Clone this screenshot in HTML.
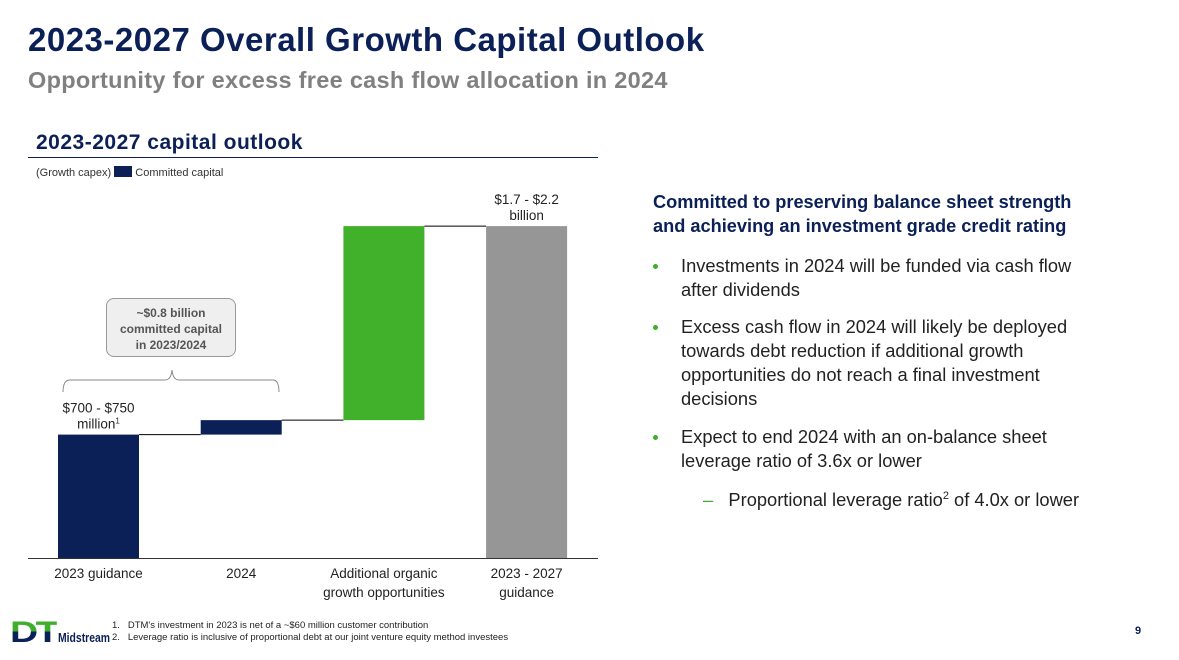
<!DOCTYPE html>
<html><head><meta charset="utf-8"><style>
body{margin:0;width:1179px;height:660px;background:#fff;position:relative;overflow:hidden;font-family:"Liberation Sans",sans-serif}
.a{position:absolute;white-space:nowrap}
.navy{color:#0b2057}
.rt{font-size:18.3px;color:#222;line-height:24px}
.dot{position:absolute;left:653px;width:5px;height:5px;border-radius:50%;background:#3fae2a}
</style></head><body>
<div class="a navy" style="left:28px;top:21px;font-size:33px;font-weight:bold;letter-spacing:0.5px">2023-2027 Overall Growth Capital Outlook</div>
<div class="a" style="left:28px;top:67px;font-size:23.5px;font-weight:bold;color:#808080;letter-spacing:0.3px">Opportunity for excess free cash flow allocation in 2024</div>
<div class="a navy" style="left:36px;top:131px;font-size:21px;font-weight:bold;letter-spacing:0.5px">2023-2027 capital outlook</div>
<div class="a" style="left:28px;top:157px;width:570px;height:1px;background:#0b2057"></div>
<div class="a" style="left:36px;top:166px;font-size:11px;color:#333">(Growth capex) <span style="display:inline-block;width:18px;height:11px;background:#0b2057;vertical-align:-1px"></span> Committed capital</div>

<svg class="a" style="left:0;top:0" width="600" height="610">
<g id="g"></g>
</svg>

<div class="a" style="left:106px;top:298px;width:130px;height:59px;border:1px solid #999;border-radius:8px;background:#efefef;font-size:12px;font-weight:bold;color:#555;text-align:center;line-height:16px;padding-top:6px;box-sizing:border-box">~$0.8 billion<br>committed capital<br>in 2023/2024</div>

<div class="a navy" style="left:653px;top:190px;font-size:18.2px;font-weight:bold;line-height:24px">Committed to preserving balance sheet strength<br>and achieving an investment grade credit rating</div>
<div class="dot" style="top:264px"></div>
<div class="a rt" style="left:681px;top:254px">Investments in 2024 will be funded via cash flow<br>after dividends</div>
<div class="dot" style="top:325px"></div>
<div class="a rt" style="left:681px;top:315px">Excess cash flow in 2024 will likely be deployed<br>towards debt reduction if additional growth<br>opportunities do not reach a final investment<br>decisions</div>
<div class="dot" style="top:435px"></div>
<div class="a rt" style="left:681px;top:425px">Expect to end 2024 with an on-balance sheet<br>leverage ratio of 3.6x or lower</div>
<div class="a rt" style="left:703px;top:484px"><span style="color:#3fae2a">–</span>&nbsp;&nbsp;&nbsp;Proportional leverage ratio<sup style="font-size:11px">2</sup> of 4.0x or lower</div>

<div class="a" style="left:10px;top:620px">
<span style="font-size:30px;font-weight:900;color:#3fae2a;letter-spacing:-2px;line-height:26px;display:inline-block;transform:scaleX(1.3);transform-origin:left;background:linear-gradient(#3fae2a 45%,#0b2057 45%);-webkit-background-clip:text;-webkit-text-fill-color:transparent">DT</span><span style="position:absolute;left:48px;top:10px;font-size:13px;font-weight:bold;color:#0b2057;display:inline-block;transform:scaleX(0.8);transform-origin:left">Midstream</span></div>
<div class="a" style="left:112px;top:620px;font-size:9.5px;color:#222;line-height:12px">1.&nbsp;&nbsp;&nbsp;DTM's investment in 2023 is net of a ~$60 million customer contribution<br>2.&nbsp;&nbsp;&nbsp;Leverage ratio is inclusive of proportional debt at our joint venture equity method investees</div>
<div class="a navy" style="left:1135px;top:625px;font-size:11px;font-weight:bold">9</div>

<script>
const categories=["2023 guidance","2024","Additional organic growth opportunities","2023 - 2027 guidance"];
const values=[725,85,1140];
const colors=["#0b2057","#0b2057","#41b02a","#969696"];
const NS="http://www.w3.org/2000/svg";
const g=document.getElementById('g');
const base=558,scale=0.1702,x0=58,step=142.7,bw=81;
const y=v=>base-v*scale;
const xs=i=>x0+i*step;
function mk(t,a){const e=document.createElementNS(NS,t);for(const k in a)e.setAttribute(k,a[k]);g.appendChild(e);return e;}
let cum=0;const tops=[];
const total=values.reduce((a,b)=>a+b,0);
for(let i=0;i<4;i++){
 let lo,hi;
 if(i<3){lo=cum;hi=cum+values[i];cum=hi;}else{lo=0;hi=total;}
 const r=mk('rect',{x:xs(i),y:y(hi),width:bw,height:y(lo)-y(hi),fill:colors[i]});
 
 
 tops.push(y(hi));
 if(i<3){const l=mk('line',{x1:xs(i)+bw,x2:xs(i+1),y1:y(hi),y2:y(hi),stroke:'#000','stroke-width':1});
 
 }
}
const ax=mk('line',{x1:28,x2:598,y1:base+0.5,y2:base+0.5,stroke:'#333','stroke-width':1});


const labs=[["2023 guidance"],["2024"],["Additional organic","growth opportunities"],["2023 - 2027","guidance"]];
labs.forEach((ls,i)=>{ls.forEach((s,j)=>{const t=mk('text',{x:xs(i)+bw/2,y:578+j*19,'text-anchor':'middle','font-size':13.5,fill:'#222'});t.textContent=s;

});});
function lab(lines,cx,yy){lines.forEach((s,j)=>{const t=mk('text',{x:cx,y:yy+j*16,'text-anchor':'middle','font-size':13.5,fill:'#222'});t.innerHTML=s;

});}
lab(["$700 - $750","million<tspan font-size='8' dy='-5'>1</tspan>"],xs(0)+bw/2,tops[0]-22);
lab(["$1.7 - $2.2","billion"],xs(3)+bw/2,tops[3]-22);
const br=mk('path',{d:'M63,392 Q63,380 70,380 L165,380 Q171,380 172,370 Q173,380 179,380 L273,380 Q279,380 279,392',fill:'none',stroke:'#888','stroke-width':1});


</script>
</body></html>
